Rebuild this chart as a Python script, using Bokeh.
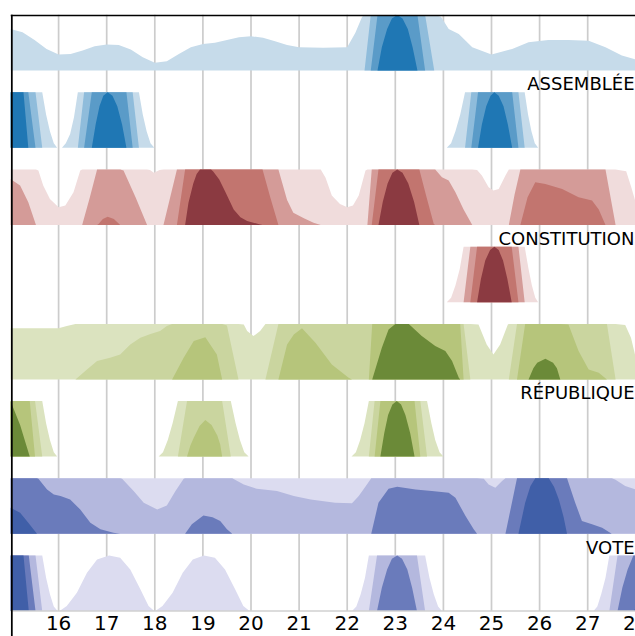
from bokeh.plotting import figure
from bokeh.models import Range1d, Span
from bokeh.core.properties import value
from bokeh.embed import file_html
from bokeh.resources import INLINE

# ---------------- data: (x, value) with value in band units (1 = one band) ----------------
WORDS = ["ASSEMBLÉE", "CONSTITUTION", "RÉPUBLIQUE", "VOTE"]
TICKS = [16, 17, 18, 19, 20, 21, 22, 23, 24, 25, 26, 27, 28]

assemblee_top = [
    (15.0, 0.75), (15.25, 0.69), (15.5, 0.55), (15.75, 0.39), (16.0, 0.29), (16.25, 0.30),
    (16.5, 0.36), (16.75, 0.44), (17.0, 0.47), (17.25, 0.46), (17.5, 0.38), (17.75, 0.24),
    (18.0, 0.14), (18.25, 0.17), (18.5, 0.30), (18.75, 0.42), (19.0, 0.48), (19.25, 0.50),
    (19.5, 0.55), (19.75, 0.60), (20.0, 0.62), (20.25, 0.59), (20.5, 0.53), (20.75, 0.46),
    (21.0, 0.42), (21.5, 0.41), (22.0, 0.42), (22.17, 0.68), (22.31, 0.97), (22.36, 1.0),
    (22.49, 2.0), (22.63, 3.0), (22.72, 3.42), (22.83, 3.75), (22.93, 3.94), (23.04, 4.0),
    (23.15, 3.94), (23.26, 3.75), (23.36, 3.42), (23.46, 3.0), (23.62, 2.0), (23.81, 1.0),
    (23.95, 0.97), (24.11, 0.75), (24.32, 0.66), (24.6, 0.42), (25.0, 0.29), (25.43, 0.39),
    (25.77, 0.51), (26.18, 0.55), (26.6, 0.55), (27.02, 0.54), (27.37, 0.42), (27.71, 0.27),
    (28.0, 0.2)]

assemblee_bottom = [
    (15.0, 4.3), (15.27, 4.0), (15.37, 3.0), (15.52, 2.0), (15.66, 1.0), (15.74, 0.6),
    (15.82, 0.3), (15.9, 0.08), (15.97, 0.0), (16.07, 0.0), (16.15, 0.08), (16.24, 0.25),
    (16.32, 0.55), (16.4, 1.0), (16.53, 2.0), (16.69, 3.0), (16.77, 3.42), (16.85, 3.75),
    (16.93, 3.94), (17.02, 4.0), (17.12, 3.94), (17.22, 3.75), (17.32, 3.42), (17.41, 3.0),
    (17.54, 2.0), (17.67, 1.0), (17.75, 0.6), (17.83, 0.3), (17.91, 0.08), (17.99, 0.0),
    (24.07, 0.0), (24.16, 0.08), (24.25, 0.3), (24.35, 0.6), (24.45, 1.0), (24.58, 2.0),
    (24.72, 3.0), (24.8, 3.42), (24.89, 3.75), (24.98, 3.94), (25.06, 4.0), (25.15, 3.94),
    (25.25, 3.75), (25.34, 3.42), (25.43, 3.0), (25.56, 2.0), (25.69, 1.0), (25.76, 0.6),
    (25.83, 0.3), (25.9, 0.08), (25.97, 0.0), (28.0, 0.0)]

constitution_top = [
    (15.0, 1.83), (15.2, 1.71), (15.37, 1.41), (15.53, 1.0), (15.58, 0.98), (15.68, 0.71),
    (15.82, 0.47), (16.0, 0.32), (16.14, 0.35), (16.31, 0.59), (16.45, 0.98), (16.49, 1.0),
    (16.65, 1.5), (16.8, 2.0), (16.83, 2.02), (16.92, 2.11), (17.02, 2.15), (17.15, 2.11),
    (17.28, 2.0), (17.35, 1.98), (17.6, 1.5), (17.84, 1.0), (17.9, 0.99), (17.98, 0.94),
    (18.1, 0.99), (18.18, 1.0), (18.46, 2.0), (18.63, 3.0), (18.7, 3.4), (18.8, 3.75),
    (18.87, 3.92), (18.94, 4.0), (19.1, 4.05), (19.21, 3.97), (19.34, 3.82), (19.47, 3.59),
    (19.64, 3.28), (19.78, 3.14), (19.92, 3.07), (20.19, 3.01), (20.24, 3.0), (20.4, 2.5),
    (20.57, 2.0), (20.75, 1.45), (20.88, 1.22), (21.1, 1.12), (21.3, 1.04), (21.45, 1.0),
    (21.55, 0.85), (21.68, 0.53), (21.85, 0.38), (22.0, 0.32), (22.12, 0.35), (22.24, 0.53),
    (22.38, 0.98), (22.42, 1.0), (22.51, 2.0), (22.65, 3.0), (22.74, 3.42), (22.84, 3.75),
    (22.94, 3.94), (23.04, 4.0), (23.15, 3.94), (23.27, 3.75), (23.39, 3.42), (23.5, 3.0),
    (23.65, 2.5), (23.8, 2.02), (23.83, 2.0), (23.97, 1.86), (24.11, 1.8), (24.25, 1.59),
    (24.42, 1.28), (24.6, 1.0), (24.7, 0.99), (24.8, 0.89), (24.94, 0.68), (25.04, 0.62),
    (25.15, 0.65), (25.29, 0.89), (25.36, 1.0), (25.48, 1.55), (25.6, 2.0), (25.75, 2.5),
    (25.91, 2.77), (26.12, 2.74), (26.47, 2.65), (26.81, 2.5), (27.09, 2.44), (27.23, 2.28),
    (27.37, 2.0), (27.58, 1.0), (27.8, 0.97), (27.9, 0.7), (28.0, 0.4)]

constitution_bottom = [
    (15.0, 0.0), (24.07, 0.0), (24.16, 0.08), (24.25, 0.3), (24.34, 0.6), (24.42, 1.0),
    (24.56, 2.0), (24.7, 3.0), (24.78, 3.42), (24.87, 3.75), (24.97, 3.94), (25.06, 4.0),
    (25.15, 3.94), (25.24, 3.75), (25.33, 3.42), (25.42, 3.0), (25.56, 2.0), (25.69, 1.0),
    (25.77, 0.6), (25.84, 0.3), (25.91, 0.08), (25.97, 0.0), (28.0, 0.0)]

republique_top = [
    (15.0, 0.92), (15.5, 0.92), (16.0, 0.92), (16.17, 0.96), (16.35, 1.0), (16.59, 1.18),
    (16.8, 1.33), (17.07, 1.39), (17.28, 1.45), (17.49, 1.63), (17.7, 1.75), (17.91, 1.82),
    (18.11, 1.87), (18.25, 1.96), (18.36, 2.0), (18.6, 2.39), (18.81, 2.69), (19.05, 2.76),
    (19.29, 2.45), (19.4, 2.0), (19.5, 1.97), (19.74, 1.0), (19.85, 0.99), (19.92, 0.87),
    (20.05, 0.78), (20.19, 0.87), (20.3, 1.0), (20.57, 2.0), (20.75, 2.63), (20.89, 2.81),
    (21.06, 2.92), (21.34, 2.66), (21.68, 2.27), (22.03, 2.03), (22.1, 2.0), (22.45, 2.0),
    (22.52, 3.0), (22.72, 3.57), (22.86, 3.9), (23.0, 4.0), (23.15, 4.05), (23.28, 4.0),
    (23.55, 3.78), (23.83, 3.6), (24.04, 3.51), (24.18, 3.33), (24.32, 3.03), (24.35, 3.0),
    (24.42, 2.0), (24.56, 1.0), (24.73, 0.99), (24.9, 0.63), (25.04, 0.45), (25.18, 0.63),
    (25.34, 0.99), (25.36, 1.0), (25.53, 2.0), (25.7, 3.0), (25.77, 3.0), (25.87, 3.2),
    (25.95, 3.3), (26.12, 3.37), (26.28, 3.3), (26.36, 3.2), (26.43, 3.0), (26.6, 2.99),
    (26.81, 2.51), (27.02, 2.18), (27.23, 2.12), (27.4, 2.0), (27.58, 1.0), (27.78, 0.98),
    (27.9, 0.75), (28.0, 0.39)]

republique_bottom = [
    (15.0, 4.0), (15.2, 3.57), (15.4, 3.0), (15.51, 2.0), (15.66, 1.0), (15.74, 0.6),
    (15.82, 0.3), (15.9, 0.08), (15.97, 0.0), (18.08, 0.0), (18.17, 0.08), (18.27, 0.3),
    (18.37, 0.6), (18.48, 1.0), (18.67, 2.0), (18.74, 2.2), (18.81, 2.34), (18.93, 2.55),
    (19.05, 2.66), (19.18, 2.57), (19.3, 2.38), (19.36, 2.22), (19.4, 2.0), (19.58, 1.0),
    (19.68, 0.6), (19.77, 0.3), (19.86, 0.08), (19.95, 0.0), (22.09, 0.0), (22.18, 0.08),
    (22.27, 0.3), (22.36, 0.6), (22.45, 1.0), (22.57, 2.0), (22.69, 3.0), (22.77, 3.42),
    (22.85, 3.75), (22.94, 3.94), (23.03, 4.0), (23.12, 3.94), (23.21, 3.75), (23.31, 3.42),
    (23.4, 3.0), (23.52, 2.0), (23.66, 1.0), (23.75, 0.6), (23.83, 0.3), (23.92, 0.08),
    (24.0, 0.0), (28.0, 0.0)]

vote_top = [
    (15.0, 3.47), (15.2, 3.38), (15.37, 3.2), (15.55, 3.0), (15.58, 2.99), (15.76, 2.8),
    (15.9, 2.71), (16.04, 2.68), (16.24, 2.62), (16.45, 2.44), (16.66, 2.2), (16.87, 2.08),
    (17.14, 2.02), (17.28, 2.0), (17.32, 1.99), (17.56, 1.77), (17.77, 1.56), (18.05, 1.44),
    (18.25, 1.51), (18.43, 1.77), (18.6, 1.99), (18.63, 2.0), (18.77, 2.17), (19.01, 2.33),
    (19.2, 2.3), (19.36, 2.23), (19.5, 2.08), (19.61, 2.0), (19.85, 1.89), (20.12, 1.81),
    (20.54, 1.77), (20.89, 1.68), (21.24, 1.62), (21.75, 1.56), (22.1, 1.55), (22.24, 1.68),
    (22.41, 1.89), (22.5, 2.0), (22.65, 2.56), (22.86, 2.81), (23.04, 2.85), (23.42, 2.8),
    (23.76, 2.77), (24.11, 2.74), (24.25, 2.65), (24.46, 2.32), (24.63, 2.08), (24.7, 2.0),
    (24.84, 1.99), (24.94, 1.89), (25.08, 1.83), (25.22, 1.95), (25.29, 2.0), (25.53, 3.0),
    (25.56, 3.0), (25.7, 3.56), (25.81, 3.86), (25.91, 4.0), (26.05, 4.05), (26.19, 4.0),
    (26.3, 3.85), (26.4, 3.62), (26.5, 3.3), (26.57, 3.0), (26.74, 2.56), (26.88, 2.23),
    (27.09, 2.17), (27.3, 2.11), (27.5, 2.0), (27.57, 1.98), (27.78, 1.86), (28.0, 1.8)]

vote_bottom = [
    (15.0, 4.3), (15.27, 4.0), (15.38, 3.0), (15.52, 2.0), (15.66, 1.0), (15.74, 0.6),
    (15.82, 0.3), (15.9, 0.08), (15.98, 0.0), (16.02, 0.0), (16.17, 0.09), (16.38, 0.33),
    (16.59, 0.69), (16.8, 0.93), (17.05, 1.0), (17.28, 0.96), (17.49, 0.75), (17.7, 0.39),
    (17.87, 0.09), (17.99, 0.0), (18.01, 0.0), (18.16, 0.09), (18.37, 0.33), (18.58, 0.69),
    (18.79, 0.93), (19.02, 1.0), (19.25, 0.96), (19.46, 0.75), (19.67, 0.39), (19.84, 0.09),
    (19.97, 0.0), (22.1, 0.0), (22.19, 0.08), (22.28, 0.3), (22.37, 0.6), (22.45, 1.0),
    (22.62, 2.0), (22.72, 2.42), (22.83, 2.75), (22.93, 2.94), (23.04, 3.0), (23.14, 2.94),
    (23.25, 2.75), (23.35, 2.42), (23.45, 2.0), (23.62, 1.0), (23.71, 0.6), (23.8, 0.3),
    (23.89, 0.08), (23.97, 0.0), (27.12, 0.0), (27.2, 0.08), (27.28, 0.3), (27.37, 0.6),
    (27.45, 1.0), (27.62, 2.0), (27.72, 2.42), (27.83, 2.75), (27.95, 3.0), (28.0, 3.05)]

BLUES = ["#c6dbea", "#8fbcdb", "#5a9bc8", "#1f77b4"]
REDS = ["#f0dcdc", "#d49b98", "#c2756f", "#8b3a41"]
GREENS = ["#dbe3bf", "#cad59f", "#b6c57b", "#6b8a38"]
PURPLES = ["#dcdcf0", "#b4b8de", "#6a7bbb", "#405fa8"]

ROWS = [
    (assemblee_top, BLUES), (assemblee_bottom, BLUES),
    (constitution_top, REDS), (constitution_bottom, REDS),
    (republique_top, GREENS), (republique_bottom, GREENS),
    (vote_top, PURPLES), (vote_bottom, PURPLES),
]

# ---------------- layout ----------------
PX_X = 48.1           # px per x unit
PX_Y = 55.5           # px per band
PERIOD = 77.2 / PX_Y  # row spacing in band units
X0 = 15.0
X1 = X0 + 625 / PX_X
Y1 = 596.5 / PX_Y
Y0 = Y1 - 622 / PX_Y


def band_line(pairs, lo):
    """Exact clipping of the piecewise-linear series to the band [lo, lo+1]."""
    hi = lo + 1.0
    bx, by = [], []
    for i, (x, v) in enumerate(pairs):
        if i > 0:
            x0, v0 = pairs[i - 1]
            cuts = []
            for lev in (lo, hi):
                if (v0 - lev) * (v - lev) < 0:
                    t = (lev - v0) / (v - v0)
                    cuts.append((t, x0 + t * (x - x0), lev))
            for t, cx, lev in sorted(cuts):
                bx.append(cx)
                by.append(min(max(lev - lo, 0.0), 1.0))
        bx.append(x)
        by.append(min(max(v - lo, 0.0), 1.0))
    return bx, by


p = figure(width=635, height=636, x_range=Range1d(X0, X1), y_range=Range1d(Y0, Y1),
           output_backend="svg", toolbar_location=None,
           x_axis_location=None, y_axis_location=None,
           min_border_left=10, min_border_right=0, min_border_top=14, min_border_bottom=0,
           outline_line_color=None, background_fill_color="white", border_fill_color="white")
p.xgrid.visible = False
p.ygrid.visible = False

# vertical grid lines
p.segment(x0=TICKS, y0=[0.0] * len(TICKS), x1=TICKS, y1=[Y1] * len(TICKS),
          line_color="#cccccc", line_width=1.7)

# horizon rows
for r, (pairs, cols) in enumerate(ROWS):
    base = (7 - r) * PERIOD
    for k in range(4):
        bx, by = band_line(pairs, float(k))
        p.varea(x=bx, y1=[base] * len(bx), y2=[base + b for b in by], fill_color=cols[k])

# word labels
lab_y = [(7 - 2 * i) * PERIOD - 0.24 for i in range(len(WORDS))]
p.text(x=[X0 + 624.0 / PX_X] * len(WORDS), y=lab_y, text=WORDS,
       text_align="right", text_baseline="middle", text_color="black",
       text_font=value("DejaVu Sans"), text_font_size="18px")

# tick labels
p.text(x=TICKS, y=[-0.222] * len(TICKS), text=[str(t) for t in TICKS],
       text_align="center", text_baseline="middle", text_color="black",
       text_font=value("DejaVu Sans"), text_font_size="20px")

# spines
p.add_layout(Span(location=0.0, dimension="width", line_color="#d0d0d0", line_width=1.6))
p.add_layout(Span(location=Y1 - 0.8 / PX_Y, dimension="width", line_color="black", line_width=1.8))
p.add_layout(Span(location=X0 + 1.3 / PX_X, dimension="height", line_color="black", line_width=1.8))

open("out.html", "w").write(file_html(p, INLINE))
